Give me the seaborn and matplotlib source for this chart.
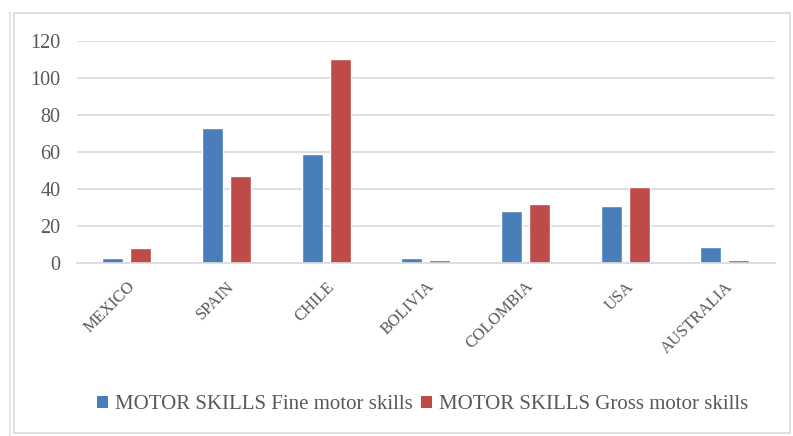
import matplotlib
matplotlib.use("Agg")
import matplotlib.pyplot as plt
import seaborn as sns
import pandas as pd
from matplotlib.patches import Rectangle, Patch

# Number of studies per country, split by motor-skill type
countries = ["MEXICO", "SPAIN", "CHILE", "BOLIVIA", "COLOMBIA", "USA", "AUSTRALIA"]
fine_motor = [3, 73, 59, 3, 28, 31, 9]
gross_motor = [8, 47, 110, 2, 32, 41, 2]
series_names = ["MOTOR SKILLS Fine motor skills", "MOTOR SKILLS Gross motor skills"]
y_ticks = [0, 20, 40, 60, 80, 100, 120]

df = pd.DataFrame({
    "country": countries * 2,
    "value": fine_motor + gross_motor,
    "series": [series_names[0]] * len(countries) + [series_names[1]] * len(countries),
})

sns.set_theme(style="white")
plt.rcParams["font.family"] = ["Liberation Serif", "DejaVu Serif"]

colors = ["#4A7EBB", "#BE4B48"]
text_color = "#595959"

fig = plt.figure(figsize=(7.93, 4.36), dpi=100)
ax = fig.add_axes([0.097, 0.396, 0.880, 0.5107])

sns.barplot(data=df, x="country", y="value", hue="series", order=countries,
            hue_order=series_names, palette=colors, width=0.56, gap=0.25,
            saturation=1, ax=ax, legend=False)

ax.set_ylim(0, 120)
ax.set_yticks(y_ticks)
ax.set_xlim(-0.5, len(countries) - 0.5)
ax.yaxis.grid(True, color="#D9D9D9", linewidth=1.2)
ax.set_axisbelow(True)
for side in ["top", "right", "left"]:
    ax.spines[side].set_visible(False)
ax.spines["bottom"].set_color("#D9D9D9")
ax.spines["bottom"].set_linewidth(1.2)
ax.set_xlabel("")
ax.set_ylabel("")
ax.tick_params(axis="y", length=0, pad=12, labelsize=14.5, labelcolor=text_color)
ax.tick_params(axis="x", length=0, pad=11, labelsize=12, labelcolor=text_color)
for lbl in ax.get_xticklabels():
    lbl.set_rotation(45)
    lbl.set_ha("right")
    lbl.set_va("top")
    lbl.set_rotation_mode("anchor")

handles = [Patch(facecolor=c, edgecolor="none") for c in colors]
fig.legend(handles, series_names, loc="center", bbox_to_anchor=(0.533, 0.072),
           ncol=2, frameon=False, fontsize=15, labelcolor=text_color,
           handlelength=0.5, handleheight=0.5, handletextpad=0.35,
           columnspacing=0.4)

# Chart frame
fig.add_artist(Rectangle((14 / 793, 3 / 436), 776 / 793, 420 / 436,
                         transform=fig.transFigure, fill=False,
                         edgecolor="#D9D9D9", linewidth=1.2))
fig.add_artist(plt.Line2D([10 / 793, 10 / 793], [0, 424 / 436],
                          transform=fig.transFigure, color="#E3E3E3", linewidth=1.2))

fig.savefig("out.png", dpi=100, facecolor="white")
